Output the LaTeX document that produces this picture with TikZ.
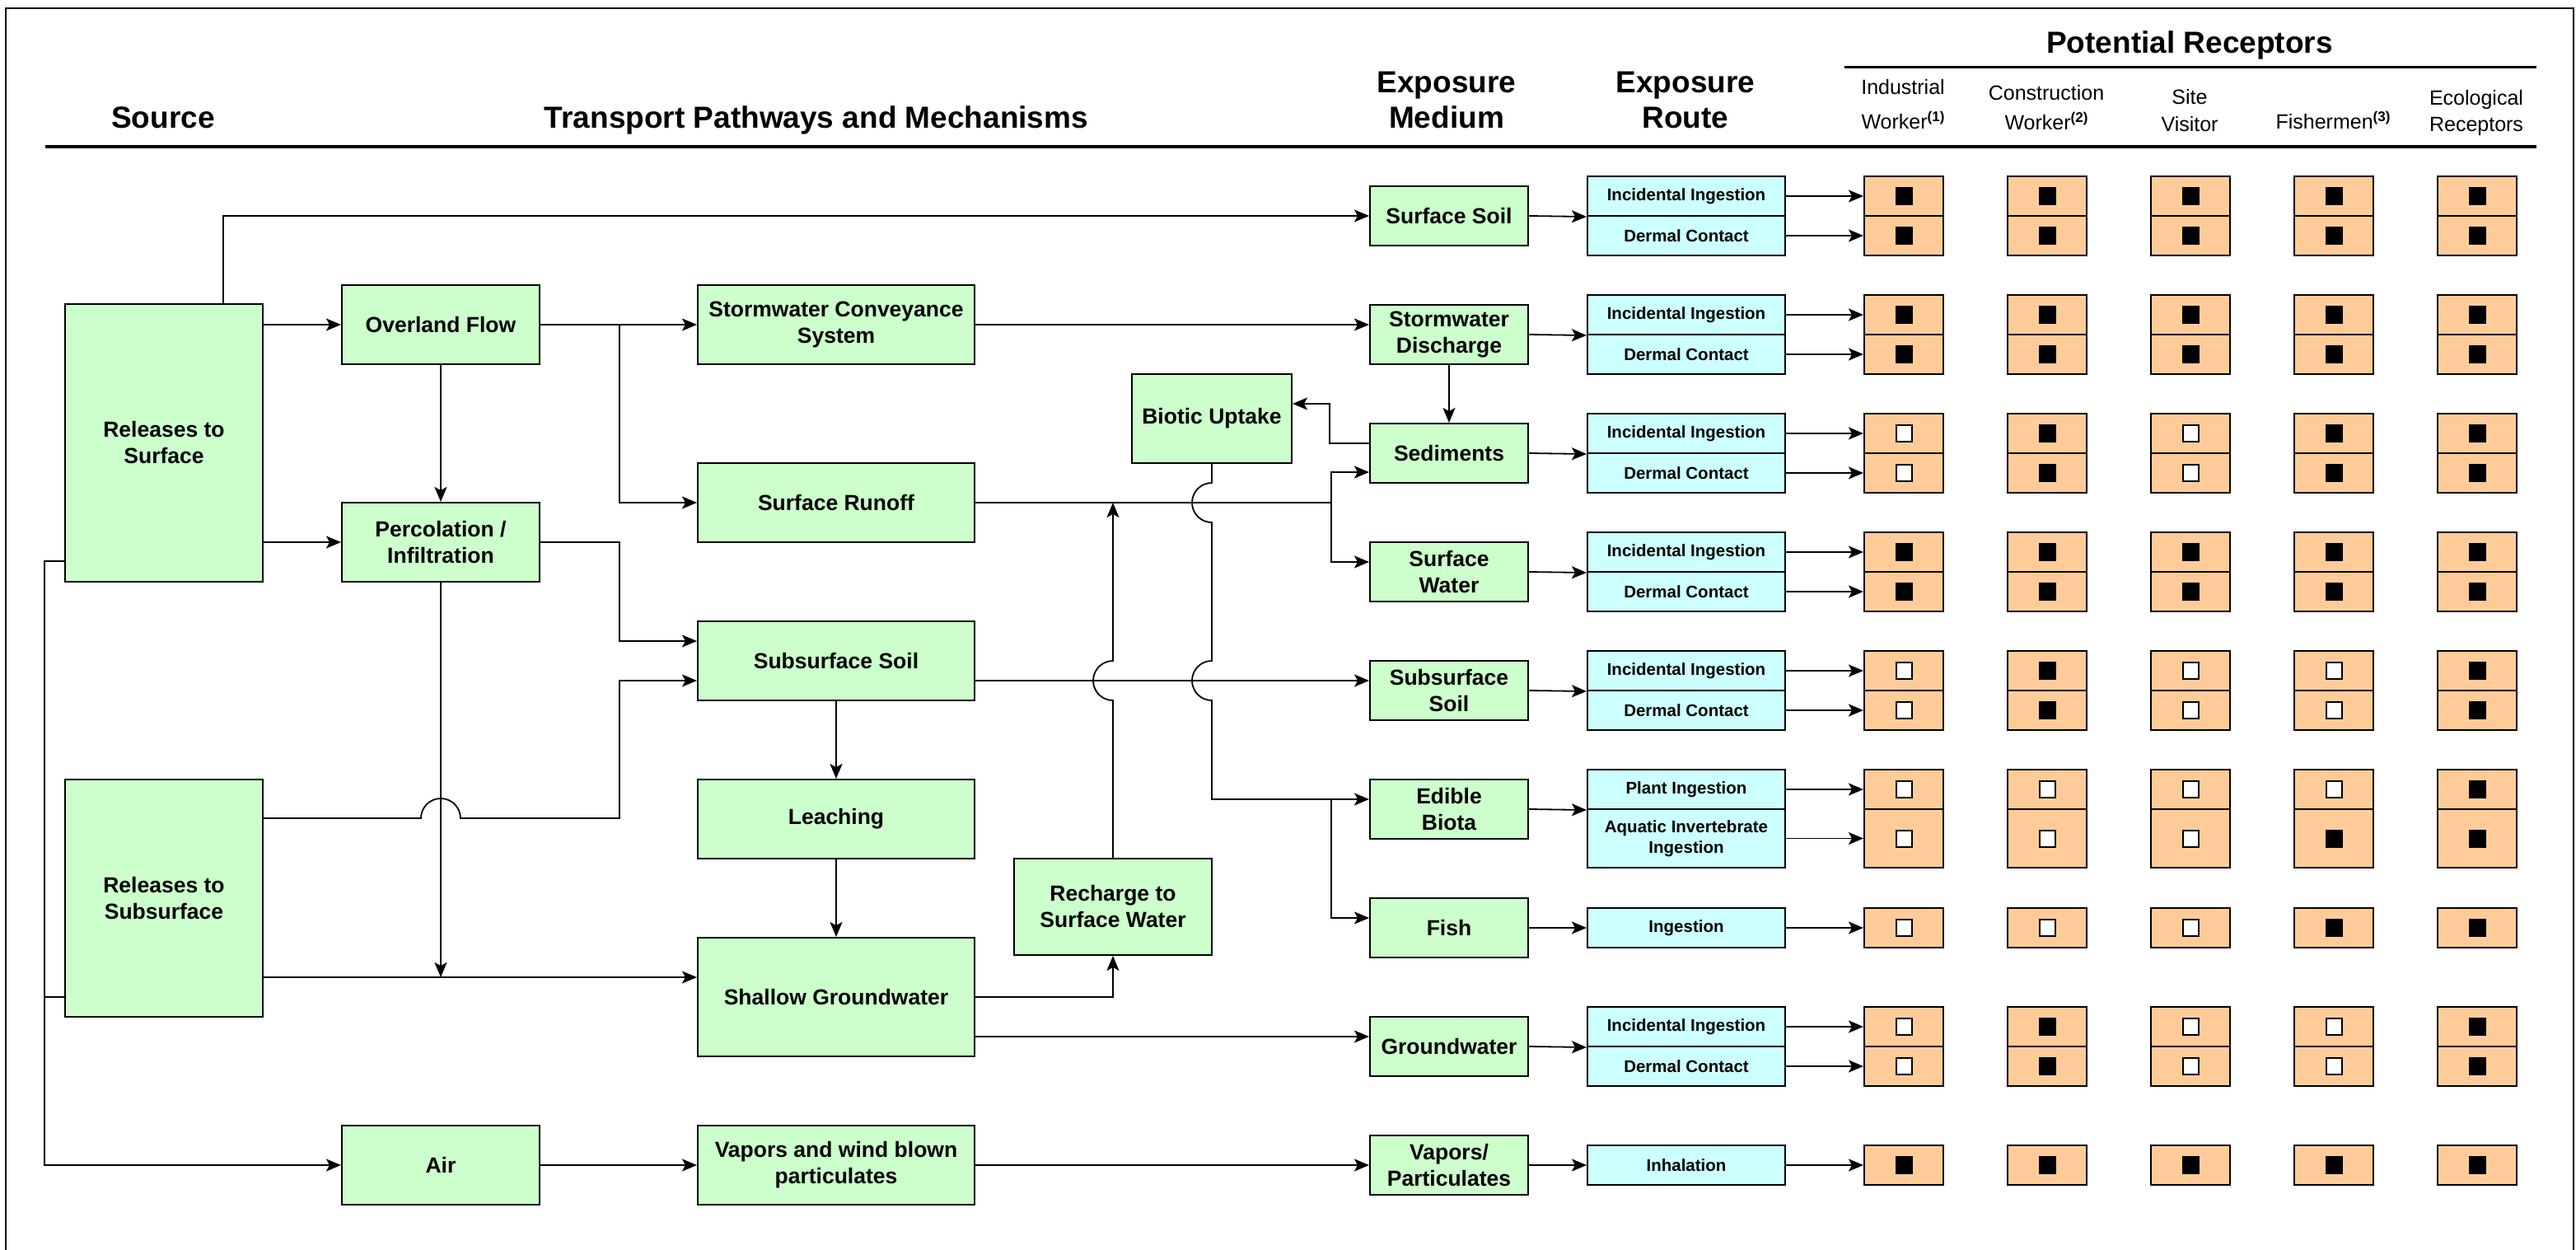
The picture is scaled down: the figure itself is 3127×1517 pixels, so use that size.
\documentclass[tikz,border=0pt]{standalone}
\usepackage{fontspec}
\setmainfont{Liberation Sans}
\usetikzlibrary{arrows.meta}
\definecolor{gfill}{HTML}{CCFFCC}
\definecolor{cfill}{HTML}{CCFFFF}
\definecolor{ofill}{HTML}{FFCC99}
\newcommand{\sups}[1]{\raisebox{9pt}{\fontsize{17}{17}\selectfont\bfseries #1}}
\newcommand{\rrow}[5]{%
  \node[rbox, minimum height=#3pt] (r#1) at (2047,#2) {#4};
  \foreach \f [count=\k] in {#5} {
    \node[obox, minimum height=#3pt] (c#1-\k) at ({2311+174*(\k-1)},#2) {};
    \ifnum\f=1\relax \node[fillmark] (k#1-\k) at (c#1-\k) {};\else \node[emptymark] (k#1-\k) at (c#1-\k) {};\fi
  }
  \draw[conn] (r#1.east) -- (c#1-1.west);
}
\begin{document}
\begin{tikzpicture}[x=1pt,y=-1pt,
  boxbase/.style={draw=black, line width=2pt, inner sep=2pt, align=center, anchor=center},
  gbox/.style={boxbase, fill=gfill, font=\fontsize{26.5}{32}\selectfont\bfseries},
  mbox/.style={gbox, minimum width=192pt, minimum height=72pt},
  rbox/.style={boxbase, fill=cfill, font=\fontsize{20.5}{25}\selectfont\bfseries, minimum width=240pt},
  obox/.style={boxbase, fill=ofill, minimum width=96pt},
  conn/.style={line width=1.8pt, -{Stealth[length=18pt,width=15pt,inset=4pt]}},
  wire/.style={line width=1.8pt},
  fillmark/.style={fill=black, draw=black, line width=1pt, minimum width=20pt, minimum height=21pt, inner sep=0pt},
  emptymark/.style={fill=white, draw=black, line width=2pt, minimum width=19pt, minimum height=20pt, inner sep=0pt},
  hdr/.style={font=\fontsize{37}{43}\selectfont\bfseries, align=center, inner sep=0pt},
  rhdr/.style={align=center, inner sep=0pt},
]
\useasboundingbox (0,0) rectangle (3127,1517);
\draw[line width=2pt] (7,1517) -- (7,10) -- (3124,10) -- (3124,1517);

% headers
\node[hdr, anchor=base] (hsrc) at (198,156) {Source};
\node[hdr, anchor=base] (htrans) at (991,156) {Transport Pathways and Mechanisms};
\node[hdr] (hmed) at (1756,121) {Exposure\\Medium};
\node[hdr] (hroute) at (2046,121) {Exposure\\Route};
\node[hdr, anchor=base] (hrec) at (2658,65) {Potential Receptors};
\draw[line width=3pt] (2239,82) -- (3079,82);
\draw[line width=4pt] (55,178) -- (3079,178);
\node[rhdr, font=\fontsize{25}{42}\selectfont] (hind) at (2310,127) {Industrial\\Worker\sups{(1)}};
\node[rhdr, font=\fontsize{25}{36}\selectfont] (hcon) at (2484,131) {Construction\\Worker\sups{(2)}};
\node[rhdr, font=\fontsize{25}{33}\selectfont] (hsite) at (2658,134.5) {Site\\Visitor};
\node[rhdr, font=\fontsize{25}{30}\selectfont, anchor=base] (hfish) at (2832,157) {Fishermen\sups{(3)}};
\node[rhdr, font=\fontsize{25}{32}\selectfont] (heco) at (3006,137) {Ecological\\Receptors};

% sources and transport
\node[gbox, minimum width=240pt, minimum height=337pt] (rs) at (199,537.5) {Releases to\\Surface};
\node[gbox, minimum width=240pt, minimum height=288pt] (rsub) at (199,1090) {Releases to\\Subsurface};
\node[gbox, minimum width=240pt, minimum height=96pt] (of) at (535,394) {Overland Flow};
\node[gbox, minimum width=240pt, minimum height=96pt] (perc) at (535,658) {Percolation /\\Infiltration};
\node[gbox, minimum width=240pt, minimum height=96pt] (air) at (535,1414) {Air};
\node[gbox, minimum width=336pt, minimum height=96pt] (swc) at (1015,394) {Stormwater Conveyance\\System};
\node[gbox, minimum width=336pt, minimum height=96pt] (sro) at (1015,610) {Surface Runoff};
\node[gbox, minimum width=336pt, minimum height=96pt] (ssoil) at (1015,802) {Subsurface Soil};
\node[gbox, minimum width=336pt, minimum height=96pt] (leach) at (1015,994) {Leaching};
\node[gbox, minimum width=336pt, minimum height=144pt] (sgw) at (1015,1210) {Shallow Groundwater};
\node[gbox, minimum width=336pt, minimum height=96pt] (vap) at (1015,1414) {Vapors and wind blown\\particulates};
\node[gbox, minimum width=194pt, minimum height=108pt] (bio) at (1471,508) {Biotic Uptake};
\node[gbox, minimum width=240pt, minimum height=117pt] (rech) at (1351,1100.5) {Recharge to\\Surface Water};

% exposure media
\node[mbox] (m1) at (1759,262) {Surface Soil};
\node[mbox] (m2) at (1759,406) {Stormwater\\Discharge};
\node[mbox] (m3) at (1759,550) {Sediments};
\node[mbox] (m4) at (1759,694) {Surface\\Water};
\node[mbox] (m5) at (1759,838) {Subsurface\\Soil};
\node[mbox] (m6) at (1759,982) {Edible\\Biota};
\node[mbox] (m7) at (1759,1126) {Fish};
\node[mbox] (m8) at (1759,1270) {Groundwater};
\node[mbox] (m9) at (1759,1414) {Vapors/\\Particulates};

% exposure routes and receptors
\rrow{1a}{238}{48}{Incidental Ingestion}{1,1,1,1,1}
\rrow{1b}{286}{48}{Dermal Contact}{1,1,1,1,1}
\rrow{2a}{382}{48}{Incidental Ingestion}{1,1,1,1,1}
\rrow{2b}{430}{48}{Dermal Contact}{1,1,1,1,1}
\rrow{3a}{526}{48}{Incidental Ingestion}{0,1,0,1,1}
\rrow{3b}{574}{48}{Dermal Contact}{0,1,0,1,1}
\rrow{4a}{670}{48}{Incidental Ingestion}{1,1,1,1,1}
\rrow{4b}{718}{48}{Dermal Contact}{1,1,1,1,1}
\rrow{5a}{814}{48}{Incidental Ingestion}{0,1,0,0,1}
\rrow{5b}{862}{48}{Dermal Contact}{0,1,0,0,1}
\rrow{6a}{958}{48}{Plant Ingestion}{0,0,0,0,1}
\rrow{6b}{1017.5}{71}{Aquatic Invertebrate\\Ingestion}{0,0,0,1,1}
\rrow{7}{1126}{48}{Ingestion}{0,0,0,1,1}
\rrow{8a}{1246}{48}{Incidental Ingestion}{0,1,0,0,1}
\rrow{8b}{1294}{48}{Dermal Contact}{0,1,0,0,1}
\rrow{9}{1414}{48}{Inhalation}{1,1,1,1,1}

\draw[conn] (m1.east) -- (r1a.south west);
\draw[conn] (m2.east) -- (r2a.south west);
\draw[conn] (m3.east) -- (r3a.south west);
\draw[conn] (m4.east) -- (r4a.south west);
\draw[conn] (m5.east) -- (r5a.south west);
\draw[conn] (m6.east) -- (r6a.south west);
\draw[conn] (m7.east) -- (r7.west);
\draw[conn] (m8.east) -- (r8a.south west);
\draw[conn] (m9.east) -- (r9.west);

% connectors
\draw[conn] ([xshift=72pt]rs.north) |- (m1.west);
\draw[conn] (rs.east |- of.west) -- (of.west);
\draw[conn] (rs.east |- perc.west) -- (perc.west);
\draw[conn] ([yshift=-143.5pt]rs.west) -- ++(-24pt,0) |- (air.west);
\draw[wire] ([yshift=-120pt]rsub.west) -- ++(-24pt,0);
\draw[conn] (of.east) -- (swc.west);
\draw[conn] (of.south) -- (perc.north);
\draw[conn] ([xshift=96pt]of.east) |- (sro.west);
\draw[conn] (perc.east) -- ++(96pt,0) |- ([yshift=24pt]ssoil.west);
\coordinate (sgwin) at ([yshift=24pt]sgw.west);
\draw[conn] (perc.south) -- (perc.south |- sgwin);
\draw[conn] (rsub.east |- sgwin) -- (sgwin);
\coordinate (rsubout) at ([yshift=97pt]rsub.east);
\coordinate (hopA) at (perc.south |- rsubout);
\coordinate (jx) at ([xshift=96pt]perc.east);
\draw[conn] (rsubout) -- ([xshift=-24pt]hopA) arc[start angle=180,end angle=0,radius=24pt] -- (jx |- rsubout) |- ([yshift=-24pt]ssoil.west);

\draw[conn] (swc.east) -- (swc.east -| m2.west);
\coordinate (sx) at ([xshift=432pt]sro.east);
\draw[wire] (sro.east) -- (sx);
\draw[conn] (sx) |- ([yshift=-23pt]m3.west);
\draw[conn] (sx) |- ([yshift=12pt]m4.west);
\draw[conn] (m2.south) -- (m3.north);
\draw[conn] ([yshift=12pt]m3.west) -- ++(-48pt,0) |- ([yshift=18pt]bio.east);

\coordinate (ssout) at ([yshift=-24pt]ssoil.east);
\coordinate (ebin) at ([yshift=12pt]m6.west);
\coordinate (h1) at (bio.south |- sro.east);
\coordinate (h2) at (bio.south |- ssout);
\draw[conn] (bio.south) -- ([yshift=24pt]h1) arc[start angle=90,end angle=270,radius=24pt] -- ([yshift=24pt]h2) arc[start angle=90,end angle=270,radius=24pt] -- (bio.south |- ebin) -- (ebin);
\coordinate (fx) at (sx |- ebin);
\draw[conn] (fx) |- ([yshift=12pt]m7.west);

\draw[conn] (ssout) -- (ssout -| m5.west);
\draw[conn] (ssoil.south) -- (leach.north);
\draw[conn] (leach.south) -- (sgw.north);
\draw[conn] (sgw.east) -| (rech.south);
\coordinate (gwout) at ([yshift=-48pt]sgw.east);
\draw[conn] (gwout) -- (gwout -| m8.west);
\coordinate (h3) at (rech.north |- ssout);
\draw[conn] (rech.north) -- ([yshift=-24pt]h3) arc[start angle=270,end angle=90,radius=24pt] -- (rech.north |- sro.east);
\draw[conn] (air.east) -- (vap.west);
\draw[conn] (vap.east) -- (m9.west);
\end{tikzpicture}
\end{document}
